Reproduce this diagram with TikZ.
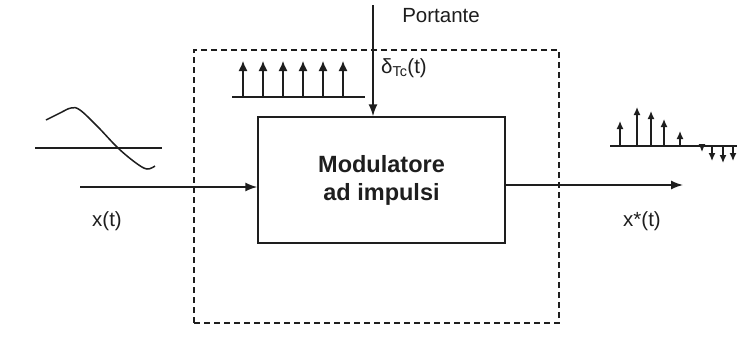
\documentclass[tikz,border=0pt]{standalone}
\usepackage{fontspec}
\setmainfont{Liberation Sans}
\usetikzlibrary{arrows.meta}
\definecolor{ink}{RGB}{30,30,30}
\begin{document}
\begin{tikzpicture}[x=1pt,y=-1pt,line width=1.5pt,draw=ink,
  sig/.style={-{Latex[length=12pt,width=9pt]}},
  imp/.style={line width=1.3pt,-{Latex[length=10pt,width=9pt]}},
  outimp/.style={line width=1.3pt,-{Latex[length=8pt,width=7pt]}},
  lbl/.style={text=ink,inner sep=0pt,font=\fontsize{20.5}{22}\selectfont},
  modbox/.style={draw,minimum width=247pt,minimum height=126pt,inner sep=0pt,
    align=center,text=ink,font=\fontsize{23.5}{28}\selectfont\bfseries},
  frame/.style={draw,dash pattern=on 6pt off 4pt,minimum width=365pt,minimum height=273pt,inner sep=0pt}]
\useasboundingbox[fill=white] (0,0) rectangle (743,349);
% dashed frame
\node[frame] (fr) at (376.5,186.5) {};
% modulator
\node[modbox] (mod) at (381.5,180) {Modulatore\\ad impulsi};
% carrier
\coordinate (ptop) at (373,5);
\draw[sig] (ptop) -- (mod.north -| ptop);
\node[lbl] (port) at (441,16) {Portante};
\node[lbl] (delta) at (404,68) {δ\textsubscript{Tc}(t)};
% impulse train
\coordinate (tl) at (232,97);
\coordinate (tr) at (365,97);
\draw[line width=1.3pt] (tl) -- (tr);
\foreach \i in {0,...,5}{
  \coordinate (ta\i) at (243+20*\i,97);
  \coordinate (tb\i) at (243+20*\i,61);
  \draw[imp] (ta\i) -- (tb\i);
}
% input
\coordinate (xin) at (80,187);
\draw[sig] (xin) -- (xin -| mod.west);
\node[lbl] (xl) at (107,221) {x(t)};
% sine
\coordinate (sl) at (35,148);
\coordinate (sr) at (162,148);
\draw[line width=1.3pt] (sl) -- (sr);
\draw[line width=1.5pt] plot[smooth,tension=0.6] coordinates {(46,120) (60,113) (71,108) (80,110) (98,127) (118,148) (136,163) (147,169) (155,166)};
% output
\coordinate (xout) at (683,185);
\draw[sig] (mod.east |- xout) -- (xout);
\node[lbl] (xsl) at (642,221) {x*(t)};
% output samples
\coordinate (ol) at (610,146);
\coordinate (or) at (737,146);
\draw[line width=1.3pt] (ol) -- (or);
\foreach \x/\y in {620/121,637/107,651/111,664/119,680/131,702/152,712/161,723/163,733/161}{
  \coordinate (sa\x) at (\x,146);
  \coordinate (sb\x) at (\x,\y);
  \draw[outimp] (sa\x) -- (sb\x);
}
\end{tikzpicture}
\end{document}
